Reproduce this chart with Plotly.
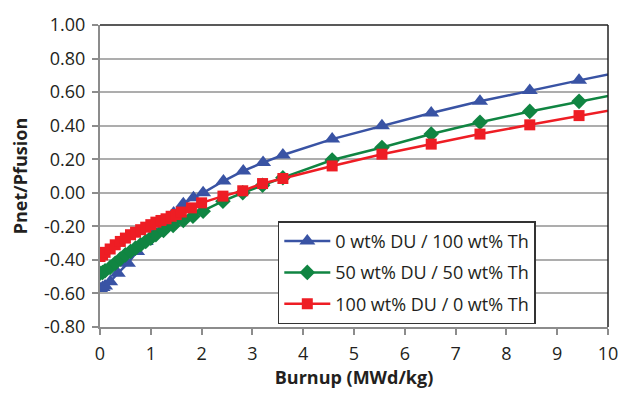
import plotly.graph_objects as go

# Burnup (MWd/kg) and Pnet/Pfusion for each fuel mix
th_x = [0, 0.05, 0.1, 0.2, 0.35, 0.55, 0.73, 0.9, 1.07, 1.25, 1.45, 1.64, 1.84, 2.03,
        2.43, 2.82, 3.21, 3.6, 4.57, 5.55, 6.52, 7.48, 8.46, 9.43, 10.4]
th_y = [-0.57, -0.565, -0.555, -0.53, -0.48, -0.42, -0.35, -0.29, -0.235, -0.18, -0.12,
        -0.065, -0.03, 0.0, 0.07, 0.13, 0.18, 0.225, 0.32, 0.40, 0.475, 0.545, 0.61, 0.67, 0.73]

mix_x = [0, 0.05, 0.1, 0.2, 0.3, 0.4, 0.5, 0.6, 0.7, 0.8, 0.9, 1.0, 1.1, 1.25, 1.44, 1.64,
         1.83, 2.03, 2.42, 2.81, 3.2, 3.6, 4.57, 5.55, 6.52, 7.48, 8.46, 9.43, 10.4]
mix_y = [-0.48, -0.475, -0.465, -0.445, -0.42, -0.395, -0.37, -0.35, -0.33, -0.31, -0.29,
         -0.27, -0.25, -0.225, -0.195, -0.165, -0.14, -0.11, -0.05, 0.0, 0.045, 0.09, 0.195,
         0.27, 0.35, 0.42, 0.485, 0.545, 0.60]

du_x = [0, 0.05, 0.1, 0.2, 0.3, 0.4, 0.5, 0.6, 0.7, 0.8, 0.9, 1.0, 1.1, 1.2, 1.3, 1.4, 1.5,
        1.6, 1.8, 2.0, 2.42, 2.81, 3.2, 3.6, 4.57, 5.55, 6.52, 7.48, 8.46, 9.43, 10.4]
du_y = [-0.38, -0.37, -0.355, -0.335, -0.31, -0.29, -0.27, -0.25, -0.235, -0.22, -0.205,
        -0.19, -0.175, -0.165, -0.155, -0.14, -0.13, -0.115, -0.09, -0.06, -0.02, 0.012,
        0.055, 0.085, 0.16, 0.23, 0.29, 0.35, 0.405, 0.46, 0.51]

names = ["0 wt% DU / 100 wt% Th", "50 wt% DU / 50 wt% Th", "100 wt% DU / 0 wt% Th"]

y_ticks = [-0.8, -0.6, -0.4, -0.2, 0.0, 0.2, 0.4, 0.6, 0.8, 1.0]
y_tick_text = ["-0.80", "-0.60", "-0.40", "-0.20", "0.00", "0.20", "0.40", "0.60", "0.80", "1.00"]
x_ticks = [0, 1, 2, 3, 4, 5, 6, 7, 8, 9, 10]

FONT = "Open Sans"
FS = 18
fig = go.Figure()
series = [
    (th_x, th_y, names[0], "#3953A4", "triangle-up", 14),
    (mix_x, mix_y, names[1], "#108542", "diamond", 12),
    (du_x, du_y, names[2], "#EE1D24", "square", 11),
]
for i, (xs, ys, nm, col, sym, sz) in enumerate(series):
    fig.add_trace(go.Scatter(
        x=xs, y=ys, name=nm, mode="lines+markers", legendgroup=str(i),
        line=dict(color=col, width=2.5),
        marker=dict(symbol=sym, size=sz, color=col, line=dict(width=0)),
    ))

fig.update_layout(
    width=632, height=395,
    margin=dict(l=100, r=24, t=14, b=58),
    paper_bgcolor="white", plot_bgcolor="white",
    font=dict(family=FONT, size=FS, color="#231F20"),
    showlegend=True,
    legend=dict(
        x=0.35, y=0.35, xanchor="left", yanchor="top",
        bgcolor="white", bordercolor="#333333", borderwidth=1.5,
        font=dict(family=FONT, size=FS, color="#231F20"),
        tracegroupgap=5, itemwidth=46,
    ),
    xaxis=dict(
        range=[0, 10], tickvals=x_ticks, showgrid=False, zeroline=False,
        showline=True, linecolor="#8C8C8C", linewidth=2,
        ticks="outside", ticklen=6, tickcolor="#8C8C8C", tickwidth=1.5,
        tickfont=dict(family=FONT, size=FS), ticklabelstandoff=3,
        title=dict(text="<b>Burnup (MWd/kg)</b>", font=dict(family=FONT, size=FS), standoff=6),
    ),
    yaxis=dict(
        range=[-0.8, 1.0], tickvals=y_ticks, ticktext=y_tick_text,
        showgrid=True, gridcolor="#ADADAD", gridwidth=1.5, zeroline=False,
        showline=True, linecolor="#8C8C8C", linewidth=2,
        ticks="outside", ticklen=6, tickcolor="#8C8C8C", tickwidth=1.5,
        tickfont=dict(family=FONT, size=FS), ticklabelstandoff=3,
        title=dict(text="<b>Pnet/Pfusion</b>", font=dict(family=FONT, size=FS), standoff=12),
    ),
    shapes=[
        dict(type="line", xref="paper", yref="paper", x0=0, x1=1, y0=1, y1=1,
             line=dict(color="#222222", width=1.5)),
        dict(type="line", xref="paper", yref="paper", x0=1, x1=1, y0=0, y1=1,
             line=dict(color="#222222", width=1.5)),
    ],
)

fig.write_html("out.html")
